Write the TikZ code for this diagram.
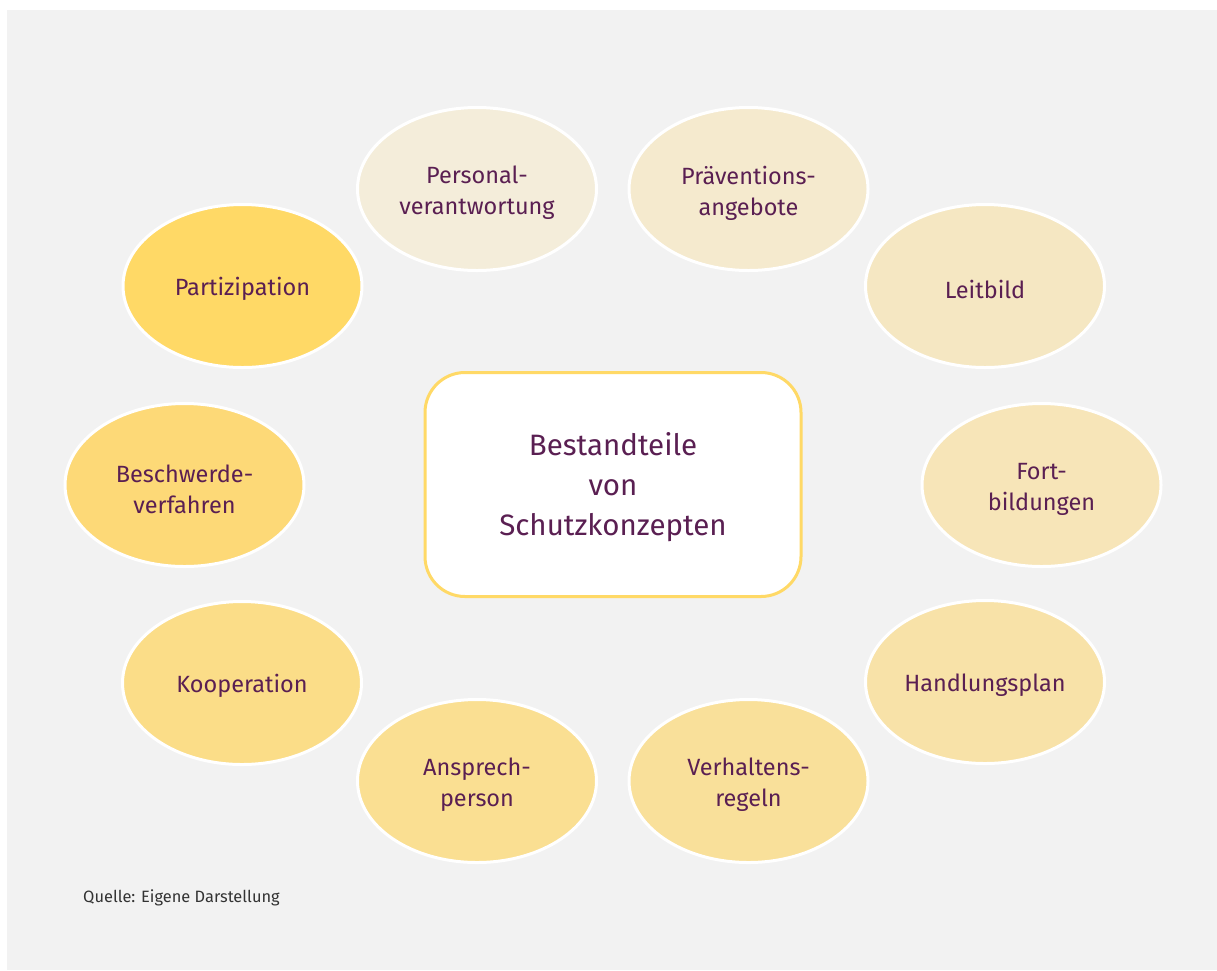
\documentclass[tikz,border=0pt]{standalone}
\usepackage{fontspec}
\setmainfont{Fira Sans}
\usetikzlibrary{shapes.geometric}
\definecolor{bg}{HTML}{F2F2F2}
\definecolor{txt}{HTML}{5A1F52}
\definecolor{src}{HTML}{333333}
\definecolor{frame}{HTML}{FFD966}
\definecolor{c1}{HTML}{F4EDDA}
\definecolor{c2}{HTML}{F5EACE}
\definecolor{c3}{HTML}{F5E7C2}
\definecolor{c4}{HTML}{F7E5B8}
\definecolor{c5}{HTML}{F8E2A8}
\definecolor{c6}{HTML}{F9E09A}
\definecolor{c7}{HTML}{FADF92}
\definecolor{c8}{HTML}{FBDD88}
\definecolor{c9}{HTML}{FDD977}
\definecolor{c10}{HTML}{FFD966}
\begin{document}
\begin{tikzpicture}[x=1pt,y=-1pt,
  part/.style={ellipse, draw=white, line width=3pt, minimum width=239pt, minimum height=163pt,
    inner sep=0pt},
  parttext/.style={align=center, text=txt, inner sep=0pt, font=\fontsize{23.5}{31}\selectfont},
  centre/.style={rectangle, rounded corners=40pt, draw=frame, fill=white, line width=3pt,
    minimum width=376pt, minimum height=224pt},
  centretext/.style={align=center, text=txt, inner sep=0pt, font=\fontsize{29.5}{40}\selectfont},
  source/.style={anchor=base west, text=src, font=\fontsize{16.4}{20}\selectfont, inner sep=0pt}]
\useasboundingbox (0,0) rectangle (1217,970);
\fill[bg] (7,10) rectangle (1217,970);
\node[centre] (c) at (613,484.5) {};
\node[centretext] (ct) at ([yshift=-3pt]c.center) {Bestandteile\\von\\Schutzkonzepten};
\node[part, fill=c1]  (p1)  at (477,189) {};
\node[part, fill=c2]  (p2)  at (748.5,189) {};
\node[part, fill=c3]  (p3)  at (985,286) {};
\node[part, fill=c4]  (p4)  at (1041.5,485) {};
\node[part, fill=c5]  (p5)  at (985,682) {};
\node[part, fill=c6]  (p6)  at (748.5,781) {};
\node[part, fill=c7]  (p7)  at (477,781) {};
\node[part, fill=c8]  (p8)  at (242,683) {};
\node[part, fill=c9]  (p9)  at (184.5,485) {};
\node[part, fill=c10] (p10) at (242.5,286) {};
\node[parttext] (t1)  at ([yshift=-4pt]p1.center)  {Personal-\\verantwortung};
\node[parttext] (t2)  at ([yshift=-4pt]p2.center)  {Präventions-\\angebote};
\node[parttext] (t3)  at ([yshift=-3pt]p3.center)  {Leitbild};
\node[parttext] (t4)  at ([yshift=-4pt]p4.center)  {Fort-\\bildungen};
\node[parttext] (t5)  at ([yshift=-3pt]p5.center)  {Handlungsplan};
\node[parttext] (t6)  at ([yshift=-4pt]p6.center)  {Verhaltens-\\regeln};
\node[parttext] (t7)  at ([yshift=-4pt]p7.center)  {Ansprech-\\person};
\node[parttext] (t8)  at ([yshift=-3pt]p8.center)  {Kooperation};
\node[parttext] (t9)  at ([yshift=-4pt]p9.center)  {Beschwerde-\\verfahren};
\node[parttext] (t10) at ([yshift=-3pt]p10.center) {Partizipation};
\node[source] (q) at (83,902) {Quelle: Eigene Darstellung};
\end{tikzpicture}
\end{document}
